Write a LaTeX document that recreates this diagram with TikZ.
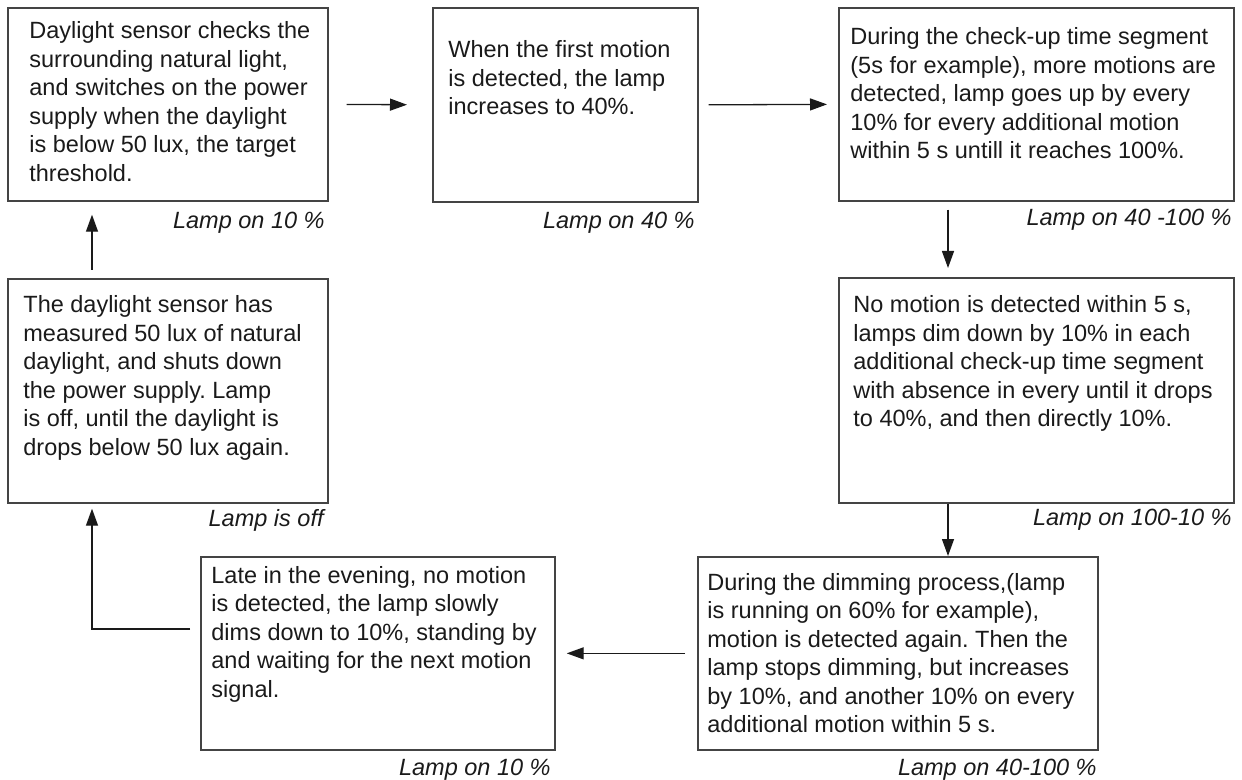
\documentclass[tikz,border=0pt]{standalone}
\usepackage{fontspec}
\setmainfont{Liberation Sans}
\usetikzlibrary{arrows.meta}
\definecolor{boxline}{HTML}{444444}
\definecolor{ink}{HTML}{1A1A1A}
\newcommand\bxlines[1]{\begin{tabular}[t]{@{}l@{}}#1\end{tabular}}
\frenchspacing
\tikzset{
  stage/.style={draw=boxline, line width=0.85pt, anchor=north west, inner sep=0pt},
  bodytext/.style={anchor=base west, inner sep=0pt, text=ink, font=\fontsize{11.75pt}{14.25pt}\selectfont},
  lamplabel/.style={anchor=base east, inner sep=0pt, text=ink, font=\fontsize{11.75pt}{14.25pt}\selectfont\itshape},
  flow/.style={draw=ink, line width=0.65pt, -{Triangle[length=8.5pt,width=6pt]}},
}
\begin{document}
\begin{tikzpicture}[x=0.5pt, y=-0.5pt]
\useasboundingbox (0,0) rectangle (1242,780);
% boxes
\node[stage, minimum width=160pt, minimum height=96.5pt] (b1) at (7,7) {};
\node[stage, minimum width=132.5pt, minimum height=97pt] (b2) at (432,7) {};
\node[stage, minimum width=197.5pt, minimum height=96.5pt] (b3) at (838,7) {};
\node[stage, minimum width=197.5pt, minimum height=112.5pt] (b4) at (838,277) {};
\node[stage, minimum width=200pt, minimum height=96.5pt] (b5) at (697,556) {};
\node[stage, minimum width=177pt, minimum height=96.5pt] (b6) at (200,556) {};
\node[stage, minimum width=160pt, minimum height=112pt] (b7) at (7,278) {};
% texts
\node[bodytext] (t1) at (29,39) {\bxlines{Daylight sensor checks the\\surrounding natural light,\\and switches on the power\\supply when the daylight\\is below 50 lux, the target\\threshold.}};
\node[bodytext] (t2) at (448,58) {\bxlines{When the first motion\\is detected, the lamp\\increases to 40\%.}};
\node[bodytext] (t3) at (850,45) {\bxlines{During the check-up time segment\\(5s for example), more motions are\\detected, lamp goes up by every\\10\% for every additional motion\\within 5 s untill it reaches 100\%.}};
\node[bodytext] (t4) at (853,313) {\bxlines{No motion is detected within 5 s,\\lamps dim down by 10\% in each\\additional check-up time segment\\with absence in every until it drops\\to 40\%, and then directly 10\%.}};
\node[bodytext] (t5) at (707,590) {\bxlines{During the dimming process,(lamp\\is running on 60\% for example),\\motion is detected again. Then the\\lamp stops dimming, but increases\\by 10\%, and another 10\% on every\\additional motion within 5 s.}};
\node[bodytext] (t6) at (211,583) {\bxlines{Late in the evening, no motion\\is detected, the lamp slowly\\dims down to 10\%, standing by\\and waiting for the next motion\\signal.}};
\node[bodytext] (t7) at (23,313) {\bxlines{The daylight sensor has\\measured 50 lux of natural\\daylight, and shuts down\\the power supply. Lamp\\is off, until the daylight is\\drops below 50 lux again.}};
% labels
\node[lamplabel] (l1) at (325,229) {Lamp on 10 \%};
\node[lamplabel] (l2) at (695,229) {Lamp on 40 \%};
\node[lamplabel] (l3) at (1232,226) {Lamp on 40 -100 \%};
\node[lamplabel] (l4) at (1232,525) {Lamp on 100-10 \%};
\node[lamplabel] (l5) at (1097,775) {Lamp on 40-100 \%};
\node[lamplabel] (l6) at (551,775) {Lamp on 10 \%};
\node[lamplabel] (l7) at (324,526) {Lamp is off};
% connectors
\draw[flow, shorten <=9pt, shorten >=12.5pt] (b1.east) -- (b2.west);
\draw[flow, shorten <=5pt, shorten >=5.5pt] (b2.east) -- (b3.west);
\draw[flow, shorten <=4pt, shorten >=4.5pt] ([xshift=55pt]b3.south west) -- ([xshift=55pt]b4.north west);
\draw[flow] ([xshift=55pt]b4.south west) -- ([xshift=125.5pt]b5.north west);
\draw[flow, shorten <=6pt, shorten >=5.5pt] (b5.west) -- (b6.east);
\draw[flow, shorten <=5pt, shorten >=2.5pt] ([yshift=-36.5pt]b6.north west) -| ([xshift=42.5pt]b7.south west);
\draw[flow, shorten <=4pt, shorten >=6.5pt] ([xshift=42.5pt]b7.north west) -- ([xshift=42.5pt]b1.south west);
\end{tikzpicture}
\end{document}
